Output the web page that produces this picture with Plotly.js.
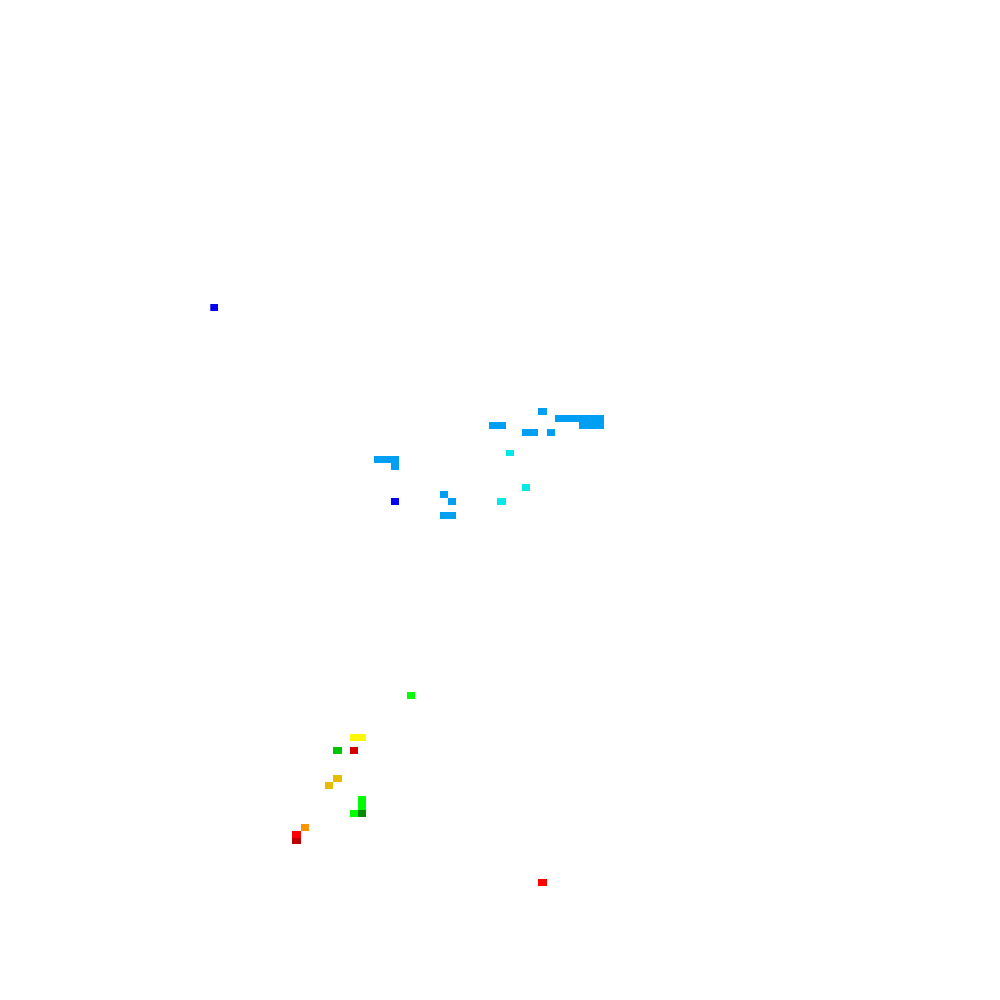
<!DOCTYPE html>
<html>
<head>
<meta charset="utf-8">
<script src="https://cdn.plot.ly/plotly-3.0.1.min.js"></script>
<style>html,body{margin:0;padding:0;background:#fff;}#chart{width:1000px;height:1000px;}</style>
</head>
<body>
<div id="chart"></div>
<script>
// NWS precipitation bins (inches) and colours
const levels = [0.01, 0.10, 0.25, 0.50, 1.0, 1.5, 2.0, 2.5, 3.0, 4.0, 5.0, 6.0, 8.0, 10.0, 15.0];
const binColors = ["#04e9e7", "#019ff4", "#0300f4", "#02fd02", "#01c501", "#008e00",
                   "#fdf802", "#e5bc00", "#fd9500", "#fd0000", "#d40000", "#bc0000",
                   "#f800fd", "#9854c6", "#fdfdfd"];

// grid cells: column index, row index, precipitation value (inches)
const cellCol = [0, 40, 42, 43, 44, 45, 46, 47, 34, 35, 45, 46, 47, 38, 39, 41,
                 36, 20, 21, 22, 22, 38, 28, 22, 29, 35, 28, 29,
                 24, 17, 18, 15, 17, 15, 14, 18, 18, 17, 18, 11, 10, 10, 40];
const cellRow = [0, 15, 16, 16, 16, 16, 16, 16, 17, 17, 17, 17, 17, 18, 18, 18,
                 21, 22, 22, 22, 23, 26, 27, 28, 28, 28, 30, 30,
                 56, 62, 62, 64, 64, 68, 69, 71, 72, 73, 73, 75, 76, 77, 83];
const cellPrecip = [0.35, 0.2, 0.2, 0.2, 0.2, 0.2, 0.2, 0.2, 0.2, 0.2, 0.2, 0.2, 0.2, 0.2, 0.2, 0.2,
                    0.05, 0.2, 0.2, 0.2, 0.2, 0.05, 0.2, 0.35, 0.2, 0.05, 0.2, 0.2,
                    0.7, 2.2, 2.2, 1.2, 5.5, 2.7, 2.7, 0.7, 0.7, 0.7, 1.7, 3.5, 4.5, 7.0, 4.5];

const nCols = 49, nRows = 84;
const z = [];
for (let r = 0; r < nRows; r++) { z.push(new Array(nCols).fill(null)); }
for (let i = 0; i < cellCol.length; i++) { z[cellRow[i]][cellCol[i]] = cellPrecip[i]; }
const xs = Array.from({length: nCols}, (_, i) => i);
const ys = Array.from({length: nRows}, (_, i) => i);

const zmax = 15;
const colorscale = [[0, "#ffffff"], [levels[0] / zmax, "#ffffff"]];
for (let i = 0; i < levels.length - 1; i++) {
  colorscale.push([levels[i] / zmax, binColors[i]]);
  colorscale.push([levels[i + 1] / zmax, binColors[i]]);
}
colorscale.push([1, binColors[binColors.length - 2]]);

const trace = {
  type: "heatmap",
  x: xs, y: ys, z: z,
  zmin: 0, zmax: zmax,
  colorscale: colorscale,
  showscale: false,
  hoverongaps: false
};

const layout = {
  width: 1000, height: 1000,
  margin: {l: 0, r: 0, t: 0, b: 0},
  paper_bgcolor: "#ffffff", plot_bgcolor: "#ffffff",
  xaxis: {visible: false, range: [-26.13, 95.75], showgrid: false, zeroline: false},
  yaxis: {visible: false, range: [99.93, -44.37], showgrid: false, zeroline: false},
  showlegend: false
};

Plotly.newPlot("chart", [trace], layout, {displayModeBar: false, staticPlot: true});
</script>
</body>
</html>
